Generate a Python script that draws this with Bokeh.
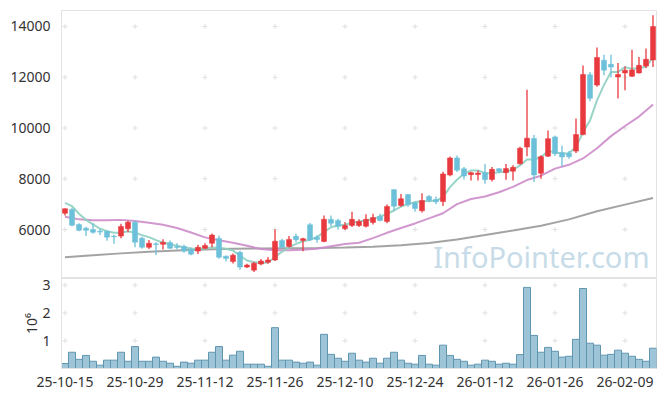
from bokeh.plotting import figure
from bokeh.layouts import column
from bokeh.models import ColumnDataSource, FixedTicker, Range1d, Label
from bokeh.embed import file_html
from bokeh.resources import INLINE

# ---- data ----
opens = [6640, 6790, 6200, 6050, 6000, 5930, 5930, 5740, 5740, 6030,
         6290, 5660, 5300, 5440, 5420, 5490, 5330, 5330, 5220, 5150,
         5260, 5460, 5650, 4950, 4740, 5100, 4520, 4400, 4640, 4710,
         4800, 5570, 5330, 5730, 5570, 6190, 5700, 5530, 6400, 6360,
         6040, 6160, 6160, 6130, 6280, 6525, 6320, 7570, 6950, 7380,
         7050, 6740, 7300, 7180, 7100, 8150, 8820, 8390, 8160, 8170,
         8240, 7970, 8390, 8240, 8300, 8590, 9250, 9590, 8220, 8890,
         9650, 9030, 9010, 9090, 9740, 12100, 11690, 12670, 12510, 12010,
         12170, 12040, 12170, 12440, 12680]
highs = [6830, 6860, 6250, 6110, 6250, 6020, 5960, 5790, 6230, 6350,
         6350, 5720, 5590, 5500, 5620, 5570, 5460, 5400, 5290, 5400,
         5460, 5840, 5760, 4980, 5060, 5160, 4650, 4730, 4840, 4920,
         6000, 5640, 5740, 5830, 5680, 6260, 5770, 6550, 6550, 6420,
         6290, 6700, 6400, 6600, 6620, 6620, 6990, 7600, 7400, 7400,
         7100, 7430, 7360, 7300, 8280, 8880, 8920, 8460, 8280, 8330,
         8580, 8460, 8420, 8580, 8530, 9260, 11510, 9720, 8930, 9900,
         9700, 9300, 9090, 10370, 12460, 12210, 13170, 12890, 12890, 12560,
         12420, 13080, 12800, 13130, 14440]
lows = [6550, 6130, 5930, 5740, 5830, 5780, 5560, 5440, 5660, 5890,
        5300, 5240, 5230, 5000, 5210, 5230, 5210, 5080, 4990, 5040,
        5230, 5300, 4845, 4740, 4660, 4410, 4480, 4330, 4590, 4650,
        4760, 5260, 5290, 5500, 5140, 5550, 5480, 5500, 6130, 6000,
        5980, 6100, 6100, 6080, 6200, 6330, 6250, 6720, 6900, 6900,
        6700, 6670, 7070, 7000, 6930, 8100, 8270, 7970, 7930, 7930,
        7800, 7890, 8230, 7960, 7930, 8560, 8890, 7870, 8000, 8860,
        8900, 8500, 8790, 9020, 9710, 11050, 11630, 12080, 11990, 11160,
        11490, 12010, 12150, 12360, 12400]
closes = [6820, 6170, 5970, 5970, 5890, 5900, 5700, 5715, 6120, 6290,
          5500, 5300, 5460, 5410, 5500, 5265, 5290, 5150, 5030, 5300,
          5370, 5780, 4910, 4860, 4990, 4520, 4600, 4670, 4760, 4800,
          5540, 5300, 5610, 5600, 5640, 5590, 5610, 6400, 6250, 6130,
          6160, 6400, 6320, 6400, 6470, 6355, 6910, 6920, 7210, 6980,
          6830, 7140, 7150, 7090, 8190, 8820, 8340, 8110, 8240, 8225,
          7970, 8370, 8300, 8400, 8450, 9200, 9600, 8150, 8870, 9580,
          8990, 8860, 8870, 9740, 12110, 11170, 12780, 12280, 12400, 12110,
          12275, 12290, 12470, 12710, 14000]
volumes = [180000, 585000, 330000, 470000, 260000, 120000, 300000, 300000, 585000, 260000,
           790000, 260000, 260000, 410000, 260000, 190000, 80000, 230000, 190000, 300000,
           300000, 585000, 790000, 300000, 480000, 620000, 155000, 155000, 155000, 80000,
           1470000, 300000, 300000, 230000, 190000, 230000, 120000, 1230000, 510000, 370000,
           260000, 550000, 300000, 230000, 370000, 190000, 370000, 585000, 300000, 190000,
           155000, 470000, 155000, 120000, 840000, 470000, 330000, 260000, 120000, 155000,
           300000, 260000, 155000, 190000, 155000, 500000, 2920000, 1190000, 585000, 760000,
           620000, 410000, 440000, 1050000, 2880000, 910000, 840000, 480000, 510000, 660000,
           550000, 440000, 330000, 260000, 730000]
ma5 = [7050, 6920, 6620, 6380, 6200, 6030, 5935, 5870, 5870, 5935,
       5870, 5780, 5700, 5580, 5480, 5420, 5360, 5300, 5250, 5240,
       5260, 5290, 5280, 5240, 5170, 4975, 4780, 4710, 4685, 4700,
       4910, 5130, 5300, 5435, 5540, 5600, 5700, 5895, 6090, 6160,
       6185, 6265, 6315, 6355, 6420, 6510, 6620, 6750, 6900, 7000,
       7080, 7115, 7120, 7130, 7275, 7670, 7960, 8195, 8330, 8330,
       8220, 8220, 8260, 8290, 8355, 8525, 8760, 8760, 8855, 9080,
       9050, 8985, 9010, 9250, 9840, 10300, 11090, 11700, 12205, 12205,
       12400, 12330, 12350, 12410, 12780]
ma20_idx = [0, 2, 4, 6, 8, 10, 12, 14, 16, 18, 20, 22, 24, 26, 28, 30, 32, 34, 36, 38, 40, 42,
            44, 46, 48, 50, 52, 54, 56, 58, 60, 62, 64, 66, 68, 70, 72, 74, 76, 78, 80, 82, 84]
ma20 = [6500, 6400, 6370, 6370, 6380, 6340, 6270, 6190, 6060, 5880, 5690, 5580, 5480, 5360,
        5230, 5180, 5180, 5200, 5240, 5340, 5430, 5480, 5660, 5870, 6060, 6240, 6440, 6640,
        7000, 7200, 7300, 7470, 7680, 7950, 8120, 8400, 8550, 8800, 9200, 9680, 10080, 10450, 10930]
ma60_idx = [0, 4, 8, 12, 16, 20, 24, 28, 32, 36, 40, 44, 48, 52, 56, 60, 64, 68, 72, 76, 80, 84]
ma60 = [4910, 4990, 5060, 5120, 5170, 5210, 5240, 5250, 5260, 5270, 5290, 5320, 5380, 5470,
        5610, 5780, 5960, 6150, 6400, 6720, 6980, 7240]

tick_pos = [0, 10, 20, 30, 40, 50, 60, 70, 80]
tick_labels = ["25-10-15", "25-10-29", "25-11-12", "25-11-26", "25-12-10",
               "25-12-24", "26-01-12", "26-01-26", "26-02-09"]
price_ticks = [6000, 8000, 10000, 12000, 14000]
vol_ticks = [1, 2, 3]

# ---- styling ----
RED = "#e8393e"
BLUE = "#6cc0d9"
FONT = "Noto Sans"
AXIS_COL = "#e3e3e3"
TXT = "#333333"

n = len(opens)
idx = list(range(n))
colors = [RED if c >= o else BLUE for o, c in zip(opens, closes)]
src = ColumnDataSource(dict(
    x=idx, o=opens, h=highs, l=lows, c=closes, col=colors,
    top=[max(o, c) for o, c in zip(opens, closes)],
    bot=[min(o, c) for o, c in zip(opens, closes)],
    vol=[v / 1e6 for v in volumes],
))

x_range = Range1d(-0.5, n - 0.5)

p1 = figure(width=658, height=278, x_range=x_range, y_range=Range1d(4070, 14630),
            output_backend="svg", toolbar_location=None, x_axis_location=None,
            min_border_left=61, min_border_right=2, min_border_top=10, min_border_bottom=0)
p1.outline_line_color = AXIS_COL
p1.grid.visible = False
p1.background_fill_color = "white"

# grid crosses
gx = [t for t in tick_pos for _ in price_ticks]
gy = [v for _ in tick_pos for v in price_ticks]
p1.scatter(gx, gy, marker="cross", size=5, line_color="#e0e0e0", line_width=1)

wm = Label(x=n - 1.5, y=4950, text="InfoPointer.com", text_align="right",
           text_baseline="alphabetic", text_font=FONT, text_font_size="29px",
           text_color="#c7dce8")
p1.add_layout(wm)

p1.line(ma60_idx, ma60, line_color="#999999", line_width=2, line_alpha=0.9)
p1.line(ma20_idx, ma20, line_color="#cc8cc9", line_width=2, line_alpha=0.9)
p1.line(idx, ma5, line_color="#8dcfc1", line_width=2, line_alpha=0.9)

p1.segment(x0="x", y0="h", x1="x", y1="l", color="col", line_width=1.3, source=src)
p1.vbar(x="x", width=0.72, top="top", bottom="bot", fill_color="col", line_color="col",
        line_width=0.5, source=src)

p1.yaxis.ticker = FixedTicker(ticks=price_ticks)
p1.yaxis.axis_line_color = AXIS_COL
p1.yaxis.major_tick_line_color = None
p1.yaxis.minor_tick_line_color = None
p1.yaxis.major_label_text_font = FONT
p1.yaxis.major_label_text_font_size = "14px"
p1.yaxis.major_label_text_color = TXT
p1.yaxis.major_label_standoff = 5

p2 = figure(width=658, height=111, x_range=x_range, y_range=Range1d(0, 3.24),
            output_backend="svg", toolbar_location=None,
            min_border_left=61, min_border_right=2, min_border_top=0, min_border_bottom=0)
p2.outline_line_color = AXIS_COL
p2.grid.visible = False

gx2 = [t for t in tick_pos for _ in vol_ticks]
gy2 = [v for _ in tick_pos for v in vol_ticks]
p2.scatter(gx2, gy2, marker="cross", size=5, line_color="#e0e0e0", line_width=1)

p2.vbar(x="x", width=1.0, top="vol", bottom=0, fill_color="#94bfd3", fill_alpha=0.9,
        line_color="#6096b0", line_width=1, source=src)

p2.xaxis.ticker = FixedTicker(ticks=tick_pos)
p2.xaxis.major_label_overrides = {t: lab for t, lab in zip(tick_pos, tick_labels)}
p2.xaxis.axis_line_color = AXIS_COL
p2.xaxis.major_tick_line_color = None
p2.xaxis.minor_tick_line_color = None
p2.xaxis.major_label_text_font = FONT
p2.xaxis.major_label_text_font_size = "14px"
p2.xaxis.major_label_text_color = TXT
p2.xaxis.major_label_standoff = 2

p2.yaxis.ticker = FixedTicker(ticks=vol_ticks)
p2.yaxis.axis_line_color = AXIS_COL
p2.yaxis.major_tick_line_color = None
p2.yaxis.minor_tick_line_color = None
p2.yaxis.major_label_text_font = FONT
p2.yaxis.major_label_text_font_size = "14px"
p2.yaxis.major_label_text_color = TXT
p2.yaxis.major_label_standoff = 5
p2.yaxis.axis_label = "10⁶"
p2.yaxis.axis_label_text_font = FONT
p2.yaxis.axis_label_text_font_size = "14px"
p2.yaxis.axis_label_text_font_style = "normal"
p2.yaxis.axis_label_text_color = TXT
p2.yaxis.axis_label_standoff = -2

layout = column(p1, p2, spacing=0)
open("out.html", "w").write(file_html(layout, INLINE))
